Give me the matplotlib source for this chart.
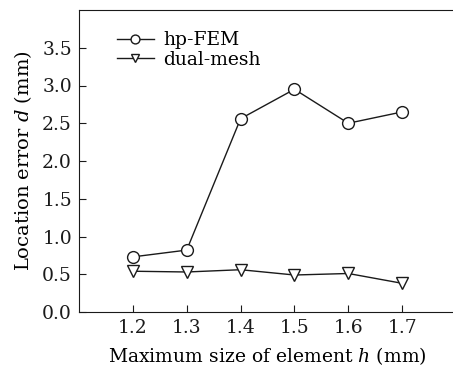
import matplotlib.pyplot as plt

# Data
h = [1.2, 1.3, 1.4, 1.5, 1.6, 1.7]
hp_fem = [0.73, 0.82, 2.56, 2.95, 2.50, 2.65]
dual_mesh = [0.54, 0.53, 0.56, 0.49, 0.51, 0.38]
yticks = [0.0, 0.5, 1.0, 1.5, 2.0, 2.5, 3.0, 3.5]

plt.rcParams['font.family'] = 'DejaVu Serif'
plt.rcParams['mathtext.fontset'] = 'dejavuserif'

fig = plt.figure(figsize=(4.53, 3.68), dpi=100)
ax = fig.add_axes([79 / 453, 56 / 368, 377 / 453, 302 / 368])

ax.plot(h, hp_fem, color='#1a1a1a', lw=1.0, marker='o', ms=8.5,
        mfc='white', mec='#1a1a1a', mew=1.0, label='hp-FEM')
ax.plot(h, dual_mesh, color='#1a1a1a', lw=1.0, marker='v', ms=8.5,
        mfc='white', mec='#1a1a1a', mew=1.0, label='dual-mesh')

ax.set_xlim(1.1, 1.8)
ax.set_ylim(0, 4)
ax.set_xticks(h)
ax.set_xticklabels([f'{v:.1f}' for v in h])
ax.set_yticks(yticks)
ax.set_yticklabels([f'{v:.1f}' for v in yticks])
ax.tick_params(direction='in', length=5, labelsize=13.5, colors='#1a1a1a', pad=5)
ax.spines['right'].set_visible(False)
for s in ax.spines.values():
    s.set_color('#1a1a1a')

ax.set_xlabel('Maximum size of element $h$ (mm)', fontsize=13.5, labelpad=6)
ax.set_ylabel('Location error $d$ (mm)', fontsize=14, labelpad=6)

ax.legend(loc='upper left', bbox_to_anchor=(0.08, 0.955), frameon=False,
          fontsize=13.5, handlelength=2.0, handletextpad=0.5, markerscale=0.75,
          labelspacing=0.1, borderaxespad=0)

fig.savefig('out.png', dpi=100)
